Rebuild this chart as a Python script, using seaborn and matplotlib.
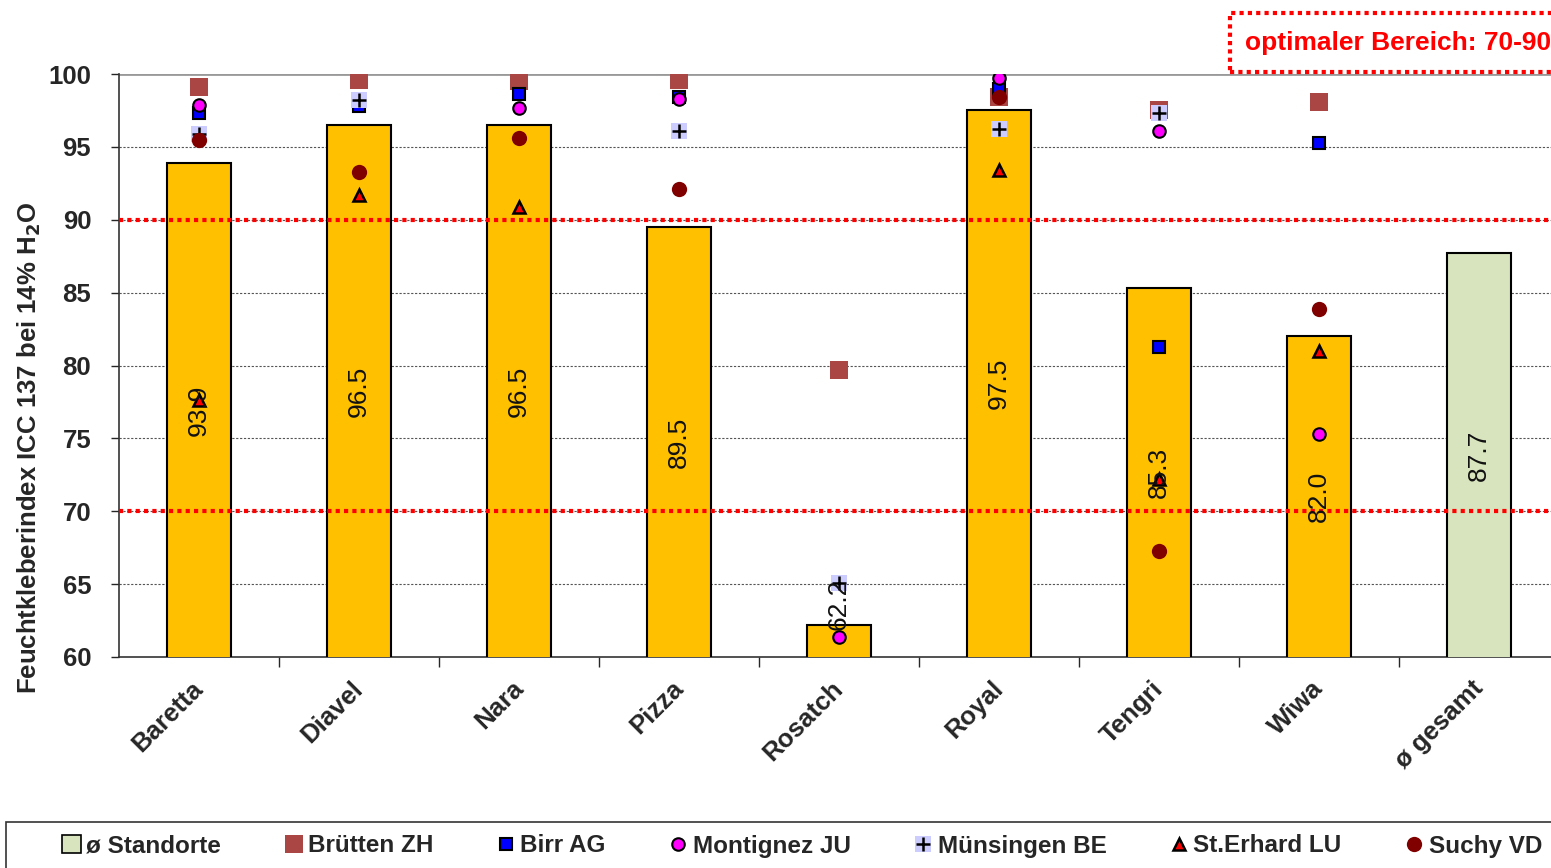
import numpy as np
import pandas as pd
import matplotlib
matplotlib.use("Agg")
import matplotlib.pyplot as plt
import matplotlib.transforms as mtransforms
from matplotlib.lines import Line2D
from matplotlib.patches import Patch, Rectangle
from matplotlib.legend_handler import HandlerTuple
import seaborn as sns

# data
categories = ["Baretta", "Diavel", "Nara", "Pizza", "Rosatch", "Royal", "Tengri", "Wiwa", "ø gesamt"]
mean_values = [93.9, 96.5, 96.5, 89.5, 62.2, 97.5, 85.3, 82.0, 87.7]

bruetten = [99.1, 99.6, 99.5, 99.6, 79.7, 98.4, 97.5, 98.1, np.nan]
birr = [97.3, 97.8, 98.6, 98.4, np.nan, 99.0, 81.3, 95.3, np.nan]
montignez = [97.9, np.nan, 97.7, 98.3, 61.4, 99.7, 96.1, 75.3, np.nan]
muensingen = [95.9, 98.2, np.nan, 96.1, 65.1, 96.2, 97.3, np.nan, np.nan]
st_erhard = [77.6, 91.7, 90.9, np.nan, np.nan, 93.4, 72.2, 81.0, np.nan]
suchy = [95.5, 93.3, 95.6, 92.1, np.nan, 98.4, 67.3, 83.9, np.nan]

optimum_low = 70
optimum_high = 90

df = pd.DataFrame({"sorte": categories, "wert": mean_values})

bar_gold = "#FFC000"
bar_green = "#D7E4BD"
bar_colors = [bar_gold] * (len(categories) - 1) + [bar_green]

sns.set_style("white")
plt.rcParams["font.family"] = ["Liberation Sans", "DejaVu Sans"]

fig = plt.figure(figsize=(15.51, 8.68), dpi=100)
ax = fig.add_axes([119 / 1551, 211 / 868, 1440 / 1551, 583 / 868])

sns.barplot(data=df, x="sorte", y="wert", hue="sorte", palette=bar_colors,
            legend=False, width=0.4, edgecolor="black", linewidth=1.5,
            saturation=1, order=categories, ax=ax, zorder=3)

ax.set_ylim(60, 100)
ax.set_xlim(-0.5, len(categories) - 0.5)

# grid lines
for yv in range(65, 100, 5):
    ax.axhline(yv, color="#555555", linestyle=(0, (2, 1.5)), linewidth=0.8, zorder=1)
ax.axhline(100, color="#999999", linewidth=2, zorder=1)

# optimal range lines
for yv in (optimum_low, optimum_high):
    ax.axhline(yv, color="red", linestyle=(0, (1, 1)), linewidth=3, zorder=4)

# value labels in the bars
for i, v in enumerate(mean_values):
    ax.text(i, max((60 + v) / 2, 63.6), f"{v:.1f}", rotation=90, ha="center", va="center",
            fontsize=19, color="#111111", zorder=6)

x = np.arange(len(categories))
ax.plot(x, bruetten, "s", ms=13, color="#AA4643", mec="#AA4643", mew=0, zorder=5)
ax.plot(x, birr, "s", ms=9, color="#0000FF", mec="black", mew=1.5, zorder=5)
ax.plot(x, montignez, "o", ms=9, color="#FF00FF", mec="black", mew=1.5, zorder=5)
ax.plot(x, muensingen, "s", ms=11, color="#CCCCFF", mew=0, zorder=5)
ax.plot(x, muensingen, "+", ms=10, color="black", mew=1.8, zorder=5)
ax.plot(x, st_erhard, "^", ms=9, color="#FF0000", mec="black", mew=1.8, zorder=5)
ax.plot(x, suchy, "o", ms=11, color="#800000", mew=0, zorder=5)

# axes styling
for s in ("top", "right"):
    ax.spines[s].set_visible(False)
ax.spines["left"].set_color("#333333")
ax.spines["bottom"].set_color("#333333")
ax.spines["left"].set_linewidth(1.2)
ax.spines["bottom"].set_linewidth(1.2)

ax.set_yticks(range(60, 101, 5))
ax.set_yticklabels([str(t) for t in range(60, 101, 5)], fontsize=18.5, fontweight="bold")
ax.tick_params(axis="y", length=6, width=1, direction="out", left=True, pad=14)

ax.set_xticks(x)
ax.set_xticklabels(categories, rotation=45, ha="right", rotation_mode="anchor",
                   fontsize=18.5, fontweight="bold")
ax.tick_params(axis="x", which="major", length=0, pad=14)
shift = mtransforms.ScaledTranslation(-8 / 100, 0, fig.dpi_scale_trans)
for lab in ax.get_xticklabels():
    lab.set_transform(lab.get_transform() + shift)
ax.set_xticks(np.arange(0.5, len(categories) - 0.5, 1), minor=True)
ax.tick_params(axis="x", which="minor", length=7, width=1, direction="out", bottom=True)

ax.set_xlabel("")
ax.set_ylabel("Feuchtkleberindex ICC 137 bei 14% H$_\\mathbf{2}$O", fontsize=18.5,
              fontweight="bold")
ax.yaxis.set_label_coords(-0.053, 0.358)

# box with the optimal range
fig.patches.append(Rectangle((1230 / 1551, (868 - 72) / 868), 400 / 1551, 59 / 868,
                             transform=fig.transFigure, fill=False, edgecolor="red",
                             linestyle=(0, (1, 1)), linewidth=3))
fig.text(1245 / 1551, (868 - 43) / 868, "optimaler Bereich: 70-90", color="red",
         fontsize=19, fontweight="bold", va="center", ha="left")

# legend frame
fig.patches.append(Rectangle((6 / 1551, -0.05), 1.1, (868 - 822) / 868 + 0.05,
                             transform=fig.transFigure, fill=False, edgecolor="#333333",
                             linewidth=1.2))

handles = [
    Patch(facecolor=bar_green, edgecolor="black", linewidth=1.2),
    Line2D([], [], ls="", marker="s", ms=13, color="#AA4643", mew=0),
    Line2D([], [], ls="", marker="s", ms=9, color="#0000FF", mec="black", mew=1.5),
    Line2D([], [], ls="", marker="o", ms=9, color="#FF00FF", mec="black", mew=1.5),
    (Line2D([], [], ls="", marker="s", ms=11, color="#CCCCFF", mew=0),
     Line2D([], [], ls="", marker="+", ms=10, color="black", mew=1.8)),
    Line2D([], [], ls="", marker="^", ms=9, color="#FF0000", mec="black", mew=1.8),
    Line2D([], [], ls="", marker="o", ms=11, color="#800000", mew=0),
]
labels = ["ø Standorte", "Brütten ZH", "Birr AG", "Montignez JU", "Münsingen BE",
          "St.Erhard LU", "Suchy VD"]
leg = fig.legend(handles, labels, loc="center left",
                 bbox_to_anchor=(62 / 1551, (868 - 846) / 868 - 0.02, 1480 / 1551, 0.04),
                 mode="expand", ncol=7, frameon=False,
                 prop={"weight": "bold", "size": 17.5}, handlelength=0.8, handletextpad=0.2,
                 borderaxespad=0, borderpad=0,
                 handler_map={tuple: HandlerTuple(ndivide=1, pad=0)})

fig.savefig("out.png", dpi=100)
